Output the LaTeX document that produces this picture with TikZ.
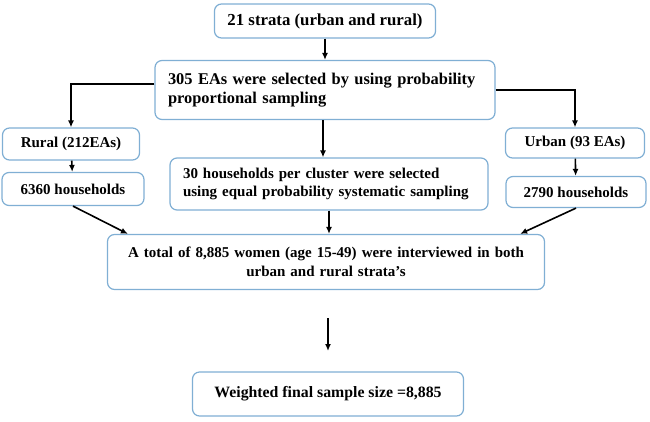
\documentclass[tikz,border=0pt]{standalone}
\usepackage{fontspec}
\setmainfont{Liberation Serif}
\usetikzlibrary{arrows.meta}
\begin{document}
\begin{tikzpicture}[
  x=1pt, y=-1pt,
  box/.style={draw=boxblue, line width=1.2pt, rounded corners=7pt, fill=white,
    inner xsep=13pt, inner ysep=3pt},
  txt/.style={font=\fontsize{#1}{18.5}\selectfont\bfseries},
  edge/.style={-{Latex[length=7pt,width=6pt]}, line width=1.6pt}
]
\definecolor{boxblue}{RGB}{128,175,212}
\useasboundingbox (0,0) rectangle (650,421);

% Top
\node[box, txt=16.8, minimum width=221pt, minimum height=34pt] (strata) at (325,21) {21 strata (urban and rural)};
\node[box, txt=16.4, minimum width=340pt, minimum height=59pt, text width=314pt, align=left] (eas) at (325,90)
  {305 EAs were selected by using probability\\proportional sampling};

% Rural side
\node[box, txt=15, minimum width=137pt, minimum height=32pt] (rural) at (71,144) {Rural (212EAs)};
\node[box, txt=15, minimum width=142pt, minimum height=33pt] (hh6360) at (73,189) {6360 households};

% Middle
\node[box, txt=15, minimum width=318pt, minimum height=52pt, text width=292pt, align=left] (hh30) at (329,184)
  {30 households per cluster were selected\\using equal probability systematic sampling};

% Urban side
\node[box, txt=15, minimum width=139pt, minimum height=30pt] (urban) at (575,143) {Urban (93 EAs)};
\node[box, txt=15, minimum width=140pt, minimum height=31pt] (hh2790) at (576,192) {2790 households};

% Bottom
\node[box, txt=15, minimum width=437pt, minimum height=55pt, text width=411pt, align=center] (women) at (326,262)
  {A total of 8,885 women (age 15-49) were interviewed in both\\urban and rural strata's};
\node[box, txt=15.8, minimum width=271pt, minimum height=44pt] (final) at (328,394) {Weighted final sample size =8,885};
\coordinate (gapA) at (328,318);
\coordinate (gapB) at (328,351);

% Connectors
\draw[edge] (strata) -- (eas);
\draw[edge] ([yshift=6pt]eas.west) -| (rural.north);
\draw[edge] (eas.east) -| (urban.north);
\draw[edge] ([xshift=-2pt]eas.south) -- ([xshift=-2pt]eas.south |- hh30.north);
\draw[edge] (rural) -- (hh6360);
\draw[edge] (urban) -- (hh2790);
\draw[edge] (hh30.south) -- (hh30.south |- women.north);
\draw[edge] (hh6360.south) -- ([xshift=21pt]women.north west);
\draw[edge] (hh2790.south) -- ([xshift=-25pt]women.north east);
\draw[edge] (gapA) -- (gapB);

\end{tikzpicture}
\end{document}
